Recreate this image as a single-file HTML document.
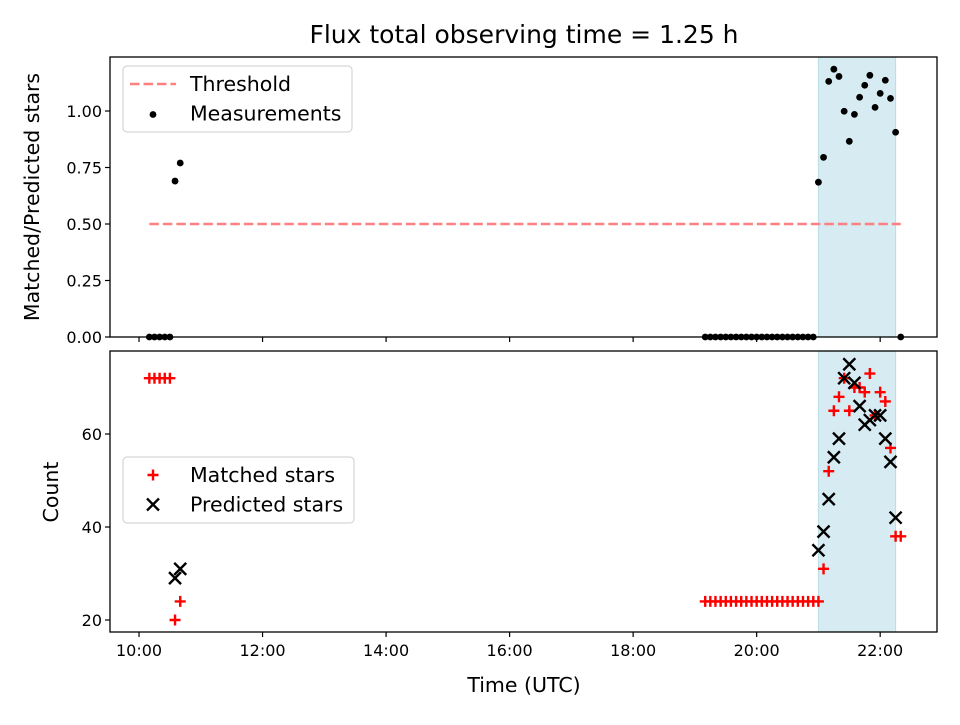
<!DOCTYPE html>
<html><head><meta charset="utf-8"><style>
html,body{margin:0;padding:0;background:#fff}
svg text{font-family:"DejaVu Sans","Liberation Sans",sans-serif;fill:#000}
</style></head><body>
<svg id="chart" width="960" height="720" viewBox="0 0 960 720" xmlns="http://www.w3.org/2000/svg">
<rect width="960" height="720" fill="#fff"/>
<text x="524" y="43" font-size="25" text-anchor="middle">Flux total observing time = 1.25 h</text>
<g id="top"></g><g id="bot"></g>
</svg>
<script>
// ---- data (times in decimal hours UTC) ----
const ratioTimes = [10.167,10.25,10.333,10.417,10.5,10.583,10.667,
19.167,19.25,19.333,19.417,19.5,19.583,19.667,19.75,19.833,19.917,20.0,20.083,20.167,20.25,20.333,20.417,20.5,20.583,20.667,20.75,20.833,20.917,
21.0,21.083,21.167,21.25,21.333,21.417,21.5,21.583,21.667,21.75,21.833,21.917,22.0,22.083,22.167,22.25,22.333];
const ratioValues = [0,0,0,0,0,0.69,0.77,
0,0,0,0,0,0,0,0,0,0,0,0,0,0,0,0,0,0,0,0,0,0,
0.685,0.795,1.131,1.185,1.153,0.999,0.866,0.985,1.061,1.114,1.158,1.016,1.078,1.136,1.056,0.906,0];
const matchedValues = [72,72,72,72,72,20,24,
24,24,24,24,24,24,24,24,24,24,24,24,24,24,24,24,24,24,24,24,24,24,
24,31,52,65,68,72,65,70,70,69,73,64,69,67,57,38,38];
const predTimes = [10.583,10.667,21.0,21.083,21.167,21.25,21.333,21.417,21.5,21.583,21.667,21.75,21.833,21.917,22.0,22.083,22.167,22.25];
const predValues = [29,31,35,39,46,55,59,72,75,71,66,62,63,64,64,59,54,42];
const threshold = 0.5;
const thresholdRange = [10.167,22.333];
const spanRange = [21.0,22.25];
const xTicks = [10,12,14,16,18,20,22];
const xTickLabels = ["10:00","12:00","14:00","16:00","18:00","20:00","22:00"];
const topTicks = [0,0.25,0.5,0.75,1.0];
const topTickLabels = ["0.00","0.25","0.50","0.75","1.00"];
const botTicks = [20,40,60];
const botTickLabels = ["20","40","60"];

const NS="http://www.w3.org/2000/svg";
function mk(parent,tag,attrs){const e=document.createElementNS(NS,tag);for(const k in attrs)e.setAttribute(k,attrs[k]);parent.appendChild(e);return e;}
const L=110,R=937;
const X=t=>L+(t-9.53)/(22.92-9.53)*(R-L);
const TT=57,TB=337, BT=351,BB=632;
const YT=v=>TB-(v-0)/(1.239-0)*(TB-TT);
const YB=v=>BB-(v-17.42)/(77.85-17.42)*(BB-BT);

function panel(g,top,bot,Y,ticks,labels,showX){
  const s=mk(g,'rect',{x:X(spanRange[0]),y:top,width:X(spanRange[1])-X(spanRange[0]),height:bot-top,fill:'#d6ebf2',stroke:'#b9dde8','stroke-width':1});
  
  
  ticks.forEach((v,i)=>{
    mk(g,'line',{x1:L-5,x2:L,y1:Y(v),y2:Y(v),stroke:'#000','stroke-width':1.2});
    const t=mk(g,'text',{x:L-8,y:Y(v)+6,'font-size':16,'text-anchor':'end'});t.textContent=labels[i];
    
    
  });
  xTicks.forEach((v,i)=>{
    mk(g,'line',{x1:X(v),x2:X(v),y1:bot,y2:bot+5,stroke:'#000','stroke-width':1.2});
    if(showX){const t=mk(g,'text',{x:X(v),y:bot+24,'font-size':16,'text-anchor':'middle'});t.textContent=xTickLabels[i];
    
    }
  });
}
const gt=document.getElementById('top'), gb=document.getElementById('bot');
panel(gt,TT,TB,YT,topTicks,topTickLabels,false);
panel(gb,BT,BB,YB,botTicks,botTickLabels,true);

// threshold
const th=mk(gt,'line',{x1:X(thresholdRange[0]),x2:X(thresholdRange[1]),y1:YT(threshold),y2:YT(threshold),stroke:'#ff8080','stroke-width':2.6,'stroke-dasharray':'9.5,4'});


// measurements
ratioTimes.forEach((t,i)=>{
  const c=mk(gt,'circle',{cx:X(t),cy:YT(ratioValues[i]),r:3.4,fill:'#000'});
  
  
});
// matched (+)
ratioTimes.forEach((t,i)=>{
  const x=X(t),y=YB(matchedValues[i]);
  const p=mk(gb,'path',{d:`M${x-5.5},${y}H${x+5.5}M${x},${y-5.5}V${y+5.5}`,stroke:'#f00','stroke-width':2.4});
  
  
});
// predicted (x)
predTimes.forEach((t,i)=>{
  const x=X(t),y=YB(predValues[i]);
  const p=mk(gb,'path',{d:`M${x-6},${y-6}L${x+6},${y+6}M${x-6},${y+6}L${x+6},${y-6}`,stroke:'#000','stroke-width':2.4});
  
  
});
// frames
[[gt,TT,TB],[gb,BT,BB]].forEach(([g,a,b])=>{
  const f=mk(g,'rect',{x:L,y:a,width:R-L,height:b-a,fill:'none',stroke:'#000','stroke-width':1.3});
  
  
});
// axis labels
let t=mk(gt,'text',{x:0,y:0,'font-size':20.5,'text-anchor':'middle',transform:`translate(39,197) rotate(-90)`});t.textContent='Matched/Predicted stars';


t=mk(gb,'text',{x:0,y:0,'font-size':20.5,'text-anchor':'middle',transform:`translate(58,492) rotate(-90)`});t.textContent='Count';


t=mk(gb,'text',{x:524,y:692,'font-size':20.5,'text-anchor':'middle'});t.textContent='Time (UTC)';



// legends
function legend(g,x,y,w,h,items,name){
  const lg=mk(g,'g',{});
  
  
  mk(lg,'rect',{x:x,y:y,width:w,height:h,rx:4,fill:'#fff','fill-opacity':0.8,stroke:'#ccc','stroke-width':1});
  items.forEach((it,i)=>{
    const cy=y+18+i*29.5;
    const e=mk(lg,'g',{});
    
    
    it.draw(e,x+30,cy);
    const tx=mk(e,'text',{x:x+67,y:cy+7,'font-size':20.5});tx.textContent=it.label;
  });
}
legend(gt,123,66,229,66,[
  {label:'Threshold',draw:(e,cx,cy)=>mk(e,'line',{x1:cx-23,x2:cx+23,y1:cy,y2:cy,stroke:'#ff8080','stroke-width':2.6,'stroke-dasharray':'9.5,4'})},
  {label:'Measurements',draw:(e,cx,cy)=>mk(e,'circle',{cx:cx,cy:cy+1,r:3.4,fill:'#000'})}
],'top-legend');
legend(gb,123,457,231,66,[
  {label:'Matched stars',draw:(e,cx,cy)=>mk(e,'path',{d:`M${cx-5.5},${cy}H${cx+5.5}M${cx},${cy-5.5}V${cy+5.5}`,stroke:'#f00','stroke-width':2.4})},
  {label:'Predicted stars',draw:(e,cx,cy)=>mk(e,'path',{d:`M${cx-6},${cy-6}L${cx+6},${cy+6}M${cx-6},${cy+6}L${cx+6},${cy-6}`,stroke:'#000','stroke-width':2.4})}
],'bottom-legend');
</script>
</body></html>
